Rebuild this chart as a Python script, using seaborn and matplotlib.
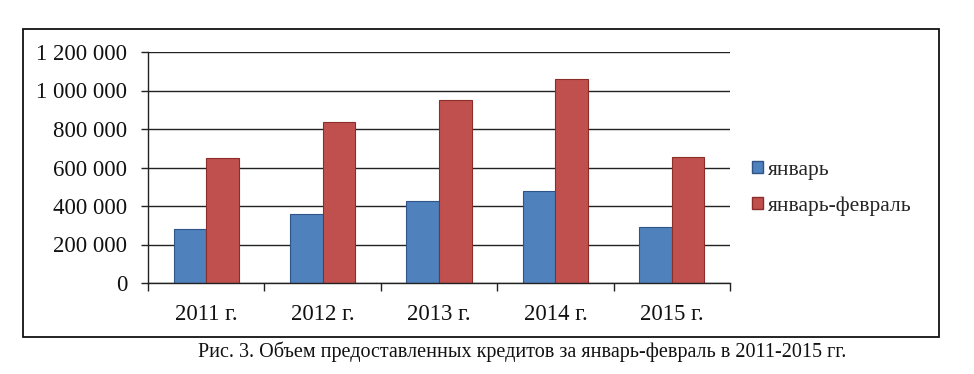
import matplotlib
matplotlib.use("Agg")
import matplotlib.pyplot as plt
import seaborn as sns
import pandas as pd
from matplotlib.patches import Rectangle, Patch
from matplotlib.ticker import FuncFormatter, FixedLocator

years = ["2011 г.", "2012 г.", "2013 г.", "2014 г.", "2015 г."]
january = [279000, 357000, 426000, 478000, 291000]
jan_feb = [650000, 838000, 951000, 1058000, 656000]
series_names = ["январь", "январь-февраль"]
caption = "Рис. 3. Объем предоставленных кредитов за январь-февраль в 2011-2015 гг."

df = pd.DataFrame({
    "year": years * 2,
    "value": january + jan_feb,
    "series": [series_names[0]] * len(years) + [series_names[1]] * len(years),
})

sns.set_theme(style="white")
plt.rcParams["font.family"] = ["Liberation Serif", "DejaVu Serif"]

fig = plt.figure(figsize=(9.74, 3.74), dpi=100)
ax = fig.add_axes([148/974, 1-283/374, (730-148)/974, (283-52)/374])

colors = ["#4F81BD", "#C0504D"]
sns.barplot(data=df, x="year", y="value", hue="series", palette=colors,
            width=0.56, ax=ax, legend=False, saturation=1)
edge = ["#2F5487", "#8C2D2A"]
for i, cont in enumerate(ax.containers):
    for p in cont:
        p.set_edgecolor(edge[i])
        p.set_linewidth(0.8)

ax.set_ylim(0, 1200000)
ax.set_xlim(-0.5, 4.5)
ax.set_yticks([0, 200000, 400000, 600000, 800000, 1000000, 1200000])
ax.yaxis.set_major_formatter(FuncFormatter(lambda v, p: f"{int(v):,}".replace(",", " ")))
ax.grid(axis="y", color="#222222", linewidth=1.0)
ax.set_axisbelow(True)
for s in ["top", "right"]:
    ax.spines[s].set_visible(False)
for s in ["left", "bottom"]:
    ax.spines[s].set_color("#222222")
    ax.spines[s].set_linewidth(1.0)
ax.set_xlabel("")
ax.set_ylabel("")
ax.tick_params(axis="y", which="major", length=5, width=1, color="#222222",
               labelsize=16.5, pad=10, labelcolor="#111111", left=True, direction="out")
ax.tick_params(axis="x", which="major", length=0, labelsize=16.5, pad=15, labelcolor="#111111")
ax.xaxis.set_minor_locator(FixedLocator([-0.5, 0.5, 1.5, 2.5, 3.5, 4.5]))
ax.tick_params(axis="x", which="minor", length=6, width=1, color="#222222", bottom=True, direction="out")

handles = [Patch(facecolor=colors[i], edgecolor=edge[i], label=series_names[i]) for i in range(2)]
fig.legend(handles=handles, loc="upper left", bbox_to_anchor=(752/974, 1-161/374),
           frameon=False, fontsize=15.5, handlelength=0.5, handleheight=0.5,
           handletextpad=0.25, labelspacing=0.75, borderaxespad=0, borderpad=0)

fig.patches.append(Rectangle((23/974, 1-337/374), (939-23)/974, (337-29)/374,
                             transform=fig.transFigure, fill=False,
                             edgecolor="#111111", linewidth=1.3))

fig.text(522/974, 1-352/374, caption, ha="center", va="center", fontsize=14.5, color="#111111")

fig.savefig("out.png", dpi=100)
